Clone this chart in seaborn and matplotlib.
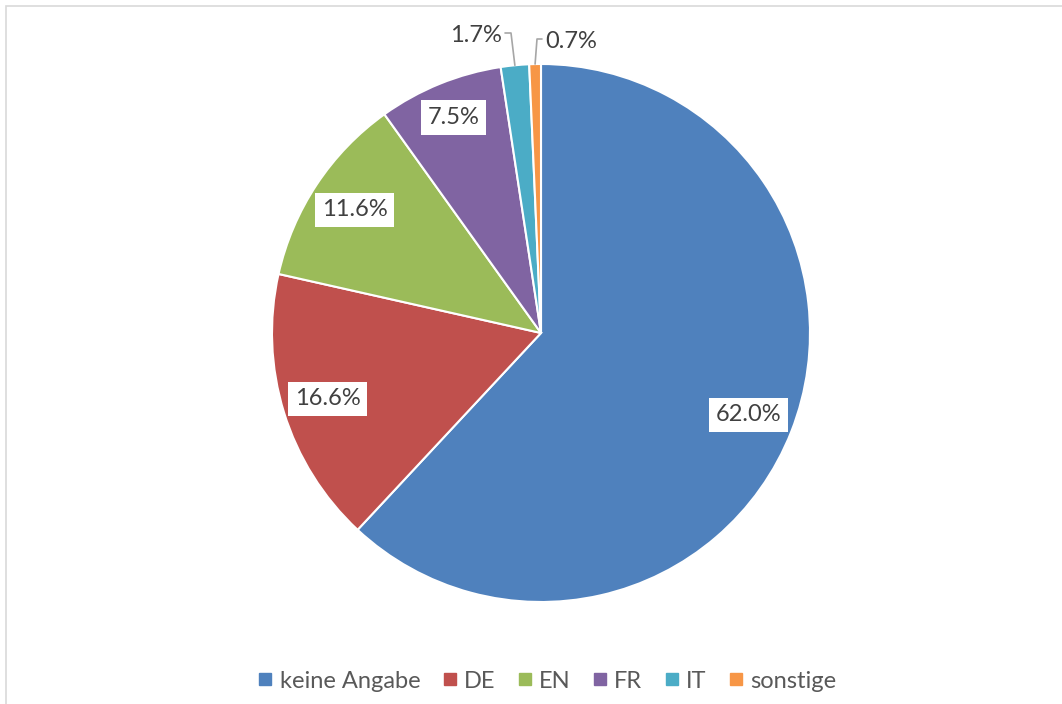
import numpy as np
import matplotlib
matplotlib.use("Agg")
import matplotlib.pyplot as plt
import seaborn as sns
from matplotlib.lines import Line2D
from matplotlib.patches import Rectangle

categories = ["keine Angabe", "DE", "EN", "FR", "IT", "sonstige"]
values = [62.0, 16.6, 11.6, 7.5, 1.7, 0.7]
value_labels = ["62.0%", "16.6%", "11.6%", "7.5%", "1.7%", "0.7%"]
colors = ["#4F81BD", "#C0504D", "#9BBB59", "#8064A2", "#4BACC6", "#F79646"]

sns.set_theme(style="white")
plt.rcParams["font.family"] = ["Lato", "DejaVu Sans"]

W, H = 1062, 704
fig = plt.figure(figsize=(W / 100, H / 100), dpi=100)
ax = fig.add_axes([0, 0, 1, 1])

# chart area border
ax.add_patch(Rectangle((6, -20), W + 40, H - 6 + 20, fill=False,
                       edgecolor="#D9D9D9", linewidth=1.2, zorder=0))

cx, cy, R = 541, H - 333, 269
wedges, _ = ax.pie(values, colors=sns.color_palette(colors), startangle=90,
                   counterclock=False, center=(cx, cy), radius=R,
                   wedgeprops=dict(edgecolor="white", linewidth=1.5),
                   frame=True)
ax.set_xlim(0, W)
ax.set_ylim(0, H)
ax.set_aspect("equal")
ax.axis("off")

fs = 17
txt_color = "#404040"
box = dict(boxstyle="square,pad=0.28", facecolor="white", edgecolor="none")

for i, w in enumerate(wedges):
    mid = np.deg2rad((w.theta1 + w.theta2) / 2)
    if i < 4:
        d = 0.83 * R if i < 3 else 0.865 * R
        ax.text(cx + d * np.cos(mid), cy + d * np.sin(mid), value_labels[i],
                ha="center", va="center", fontsize=fs, color=txt_color,
                bbox=box, zorder=5)

def edge_point(w):
    mid = np.deg2rad((w.theta1 + w.theta2) / 2)
    return cx + R * np.cos(mid), cy + R * np.sin(mid)

ex, ey = edge_point(wedges[4])
ax.plot([505, 511, ex], [H - 33, H - 33, ey], color="#A6A6A6", lw=1.2, zorder=4)
ax.text(502, H - 35, value_labels[4], ha="right", va="center",
        fontsize=fs, color=txt_color, zorder=5)

ex, ey = edge_point(wedges[5])
ax.plot([542, 537, ex], [H - 39, H - 39, ey], color="#A6A6A6", lw=1.2, zorder=4)
ax.text(545, H - 41, value_labels[5], ha="left", va="center",
        fontsize=fs, color=txt_color, zorder=5)

handles = [Line2D([0], [0], marker="s", linestyle="none", markersize=9,
                  markerfacecolor=c, markeredgecolor=c) for c in colors]
fig.legend(handles, categories, loc="center", ncol=6,
           bbox_to_anchor=(545 / W, 1 - 681 / H), frameon=False,
           fontsize=fs, labelcolor="#595959", handletextpad=0.1,
           columnspacing=0.75, handlelength=1.0)

fig.savefig("out.png", dpi=100)
